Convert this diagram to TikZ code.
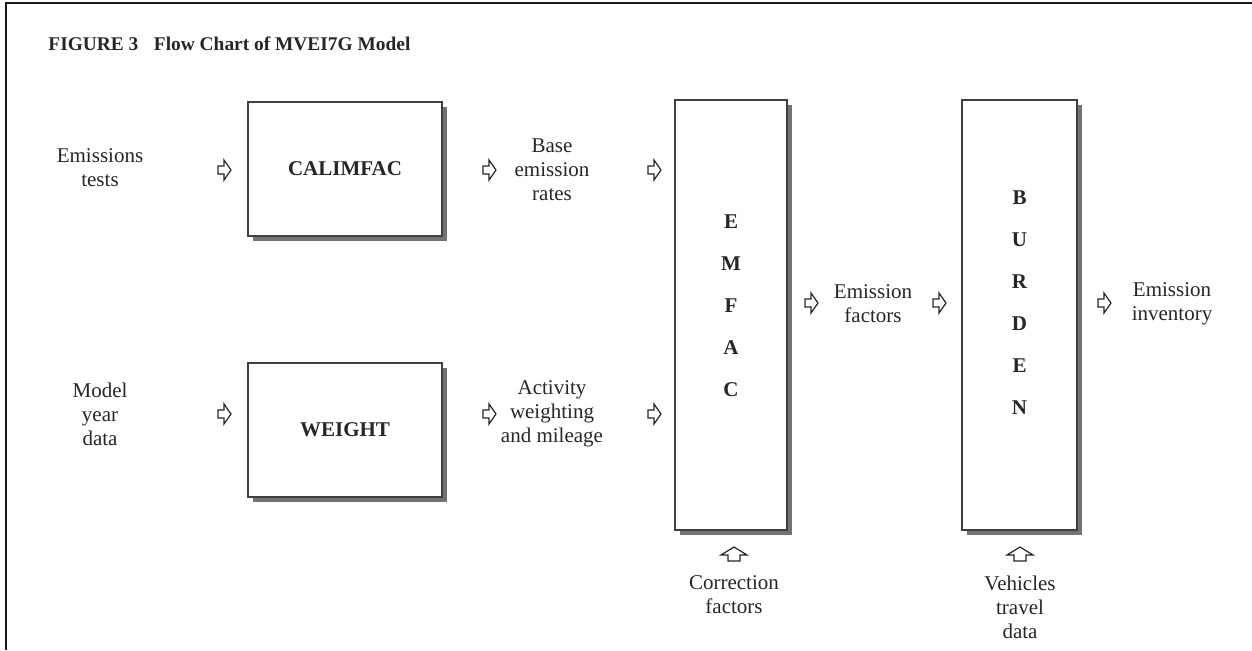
\documentclass[tikz,border=0pt]{standalone}
\usepackage{fontspec}
\setmainfont{Liberation Serif}
\usetikzlibrary{shadows}
\newcommand\rightblk[1]{\draw[blk] (#1) ++(-6,-4) -- ++(6,0) -- ++(0,-6) -- ++(7,10) -- ++(-7,10) -- ++(0,-6) -- ++(-6,0) -- cycle;}
\newcommand\upblk[1]{\draw[blk] (#1) ++(-6,7) -- ++(0,-6) -- ++(-7,0) -- ++(13,-8) -- ++(13,8) -- ++(-7,0) -- ++(0,6) -- cycle;}
\begin{document}
\begin{tikzpicture}[x=0.5pt,y=-0.5pt,
  txt/.style={align=center,inner sep=0pt,text=black!85,font=\fontsize{10.5}{12}\selectfont},
  box/.style={draw=black!75,line width=0.65pt,fill=white,inner sep=0pt,
    drop shadow={shadow xshift=2.4pt,shadow yshift=-2.4pt,fill=black!55,opacity=1},
    text=black!85,font=\fontsize{10.5}{12}\selectfont\bfseries},
  vlet/.style={align=center,inner sep=0pt,text=black!85,font=\fontsize{10.5}{21}\selectfont\bfseries},
  blk/.style={draw=black!85,fill=white,line width=0.6pt,line join=miter}]
\useasboundingbox (0,0) rectangle (1252,650);
% frame
\draw[line width=1pt,black!90] (6,650) -- (6,3) -- (1252,3);
% title
\node[anchor=base west,inner sep=0pt,text=black!85,font=\fontsize{9.7}{12}\selectfont\bfseries] (title) at (48,50) {FIGURE 3\hspace{0.8em}Flow Chart of MVEI7G Model};
% boxes
\node[box,minimum width=97pt,minimum height=67pt] (calimfac) at (345,169) {CALIMFAC};
\node[box,minimum width=97pt,minimum height=67pt] (weight) at (345,430) {WEIGHT};
\node[box,minimum width=56pt,minimum height=215pt] (emfac) at (731,315) {};
\node[box,minimum width=57.5pt,minimum height=215pt] (burden) at (1019.5,315) {};
\node[vlet] (emfacT) at (731,306) {E\\M\\F\\A\\C};
\node[vlet] (burdenT) at (1019.5,302.5) {B\\U\\R\\D\\E\\N};
% texts
\node[txt] (tests) at (100,168) {Emissions\\tests};
\node[txt] (base) at (552,170) {Base\\emission\\rates};
\node[txt] (myd) at (100,414) {Model\\year\\data};
\node[txt] (act) at (552,414) {Activity\\weighting\\and mileage};
\node[txt] (ef) at (873,303.5) {Emission\\factors};
\node[txt] (inv) at (1172,303.5) {Emission\\inventory};
\node[txt] (corr) at (734,595) {Correction\\factors};
\node[txt] (veh) at (1020,607) {Vehicles\\travel\\data};
% arrow positions
\coordinate (a1) at (224,170);
\coordinate (a2) at (489,170);
\coordinate (a3) at (654,170);
\coordinate (a4) at (224,414);
\coordinate (a5) at (489,414);
\coordinate (a6) at (654,414);
\coordinate (a7) at (811,303);
\coordinate (a8) at (939,303);
\coordinate (a9) at (1104,303);
\coordinate (u1) at (734,554);
\coordinate (u2) at (1020,554);
\foreach \p in {a1,a2,a3,a4,a5,a6,a7,a8,a9} {\rightblk{\p}}
\foreach \p in {u1,u2} {\upblk{\p}}
\end{tikzpicture}
\end{document}
